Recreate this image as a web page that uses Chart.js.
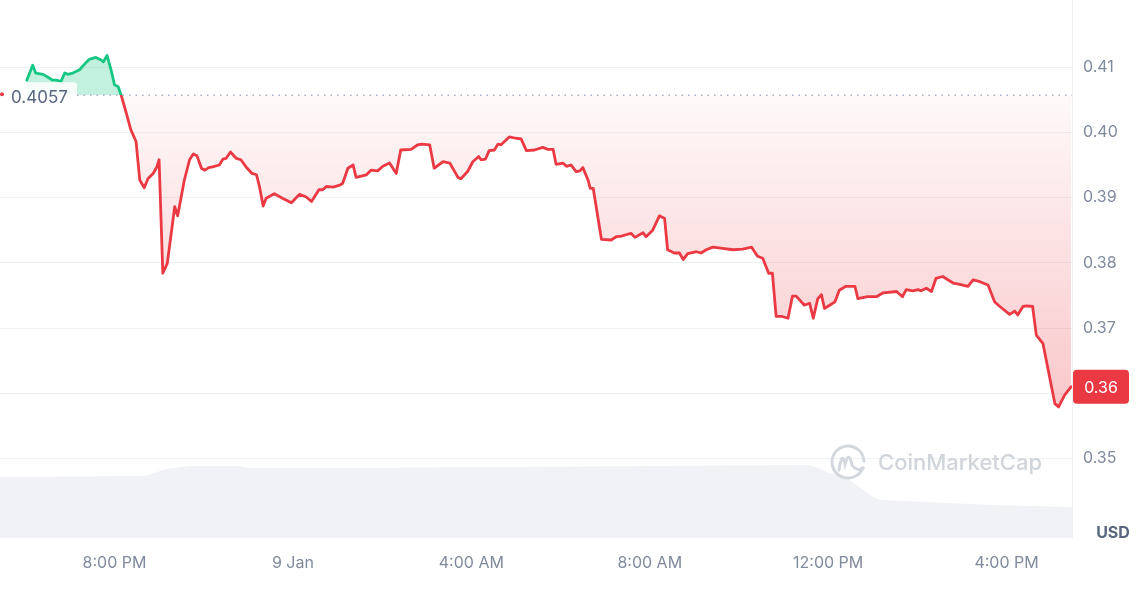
<!DOCTYPE html>
<html>
<head>
<meta charset="utf-8">
<script src="https://cdn.jsdelivr.net/npm/chart.js@4.4.1/dist/chart.umd.min.js"></script>
<style>
  html, body { margin: 0; padding: 0; background: #fff; }
  #wrap { width: 1140px; height: 599px; position: relative; }
</style>
</head>
<body>
<div id="wrap"><canvas id="chart"></canvas></div>
<script>
// time = minutes since 8 Jan 00:00
const times = [
  1082,1090,1094,1104,1110,1117,1122,1128,1133,1137,
  1144,1153,1160,1166,1175,1182,1185,1190,1196,1200,
  1205,1209,1216,1222,1229,1234,1240,1245,1252,1257,
  1260,1265,1271,1281,1285,1294,1301,1306,1311,1317,
  1321,1327,1332,1341,1346,1350,1356,1364,1370,1377,
  1385,1391,1395,1400,1404,1415,1426,1438,1449,1458,
  1465,1475,1480,1485,1494,1503,1507,1514,1521,1525,
  1539,1545,1554,1561,1570,1579,1585,1599,1608,1613,
  1624,1630,1642,1651,1662,1666,1675,1682,1690,1693,
  1699,1704,1711,1716,1720,1731,1740,1747,1754,1765,
  1776,1783,1790,1794,1803,1808,1814,1821,1826,1830,
  1837,1840,1844,1855,1868,1875,1882,1888,1895,1900,
  1911,1915,1924,1933,1940,1944,1953,1960,1965,1971,
  1983,1989,1996,2005,2018,2032,2045,2057,2065,2072,
  2080,2085,2090,2097,2106,2112,2117,2128,2135,2140,
  2146,2151,2155,2162,2169,2175,2184,2196,2200,2213,
  2225,2234,2252,2260,2265,2274,2281,2285,2292,2299,
  2305,2314,2328,2337,2348,2355,2364,2375,2384,2391,
  2404,2411,2415,2422,2427,2435,2440,2449,2453,2465,
  2470,2478,2487
];
const prices = [
  0.4080,0.4103,0.4091,0.4089,0.4085,0.4080,0.4080,0.4078,0.4091,0.4089,
  0.4091,0.4096,0.4105,0.4112,0.4115,0.4111,0.4108,0.4118,0.4093,0.4073,
  0.4070,0.4057,0.4029,0.4004,0.3986,0.3927,0.3915,0.3929,0.3937,0.3947,
  0.3958,0.3784,0.3799,0.3886,0.3872,0.3927,0.3958,0.3967,0.3964,0.3945,
  0.3942,0.3946,0.3947,0.3950,0.3959,0.3960,0.3970,0.3960,0.3958,0.3947,
  0.3937,0.3935,0.3917,0.3887,0.3899,0.3906,0.3899,0.3892,0.3905,0.3901,
  0.3894,0.3912,0.3912,0.3917,0.3916,0.3919,0.3922,0.3945,0.3950,0.3931,
  0.3935,0.3942,0.3941,0.3948,0.3953,0.3937,0.3973,0.3974,0.3981,0.3982,
  0.3981,0.3945,0.3955,0.3953,0.3931,0.3929,0.3940,0.3955,0.3963,0.3958,
  0.3959,0.3972,0.3973,0.3982,0.3981,0.3993,0.3991,0.3990,0.3972,0.3973,
  0.3977,0.3974,0.3974,0.3951,0.3953,0.3948,0.3950,0.3940,0.3941,0.3946,
  0.3927,0.3914,0.3914,0.3836,0.3835,0.3840,0.3841,0.3843,0.3845,0.3839,
  0.3846,0.3840,0.3850,0.3872,0.3868,0.3820,0.3815,0.3815,0.3805,0.3814,
  0.3817,0.3815,0.3820,0.3824,0.3822,0.3820,0.3821,0.3824,0.3810,0.3807,
  0.3784,0.3784,0.3718,0.3718,0.3715,0.3749,0.3749,0.3735,0.3738,0.3715,
  0.3745,0.3751,0.3730,0.3735,0.3740,0.3758,0.3764,0.3764,0.3745,0.3748,
  0.3748,0.3754,0.3756,0.3748,0.3759,0.3757,0.3759,0.3757,0.3761,0.3756,
  0.3776,0.3779,0.3769,0.3767,0.3764,0.3774,0.3771,0.3766,0.3740,0.3733,
  0.3721,0.3726,0.3720,0.3733,0.3734,0.3733,0.3689,0.3676,0.3653,0.3584,
  0.3579,0.3597,0.3610
];
const volumeTimes = [1046,1240,1270,1300,1368,1378,1505,1721,2131,2144,2158,2185,2202,2216,2229,2292,2381,2488];
const volumes = [6.1,6.2,6.9,7.2,7.2,7.0,7.0,7.1,7.3,7.1,6.6,6.0,5.1,4.3,3.8,3.6,3.3,3.1]; // M USD
const timeTicks = [1200, 1440, 1680, 1920, 2160, 2400];
const timeLabels = ['8:00 PM', '9 Jan', '4:00 AM', '8:00 AM', '12:00 PM', '4:00 PM'];
const priceTicks = [0.35, 0.36, 0.37, 0.38, 0.39, 0.40, 0.41];
const openPrice = 0.4057;

const GREEN = '#16c784';
const RED = '#ea3943';
const LABEL = '#808a9d';

function stopAt(chart, value) {
  const a = chart.chartArea;
  const p = (chart.scales.y.getPixelForValue(value) - a.top) / (a.bottom - a.top);
  return Math.min(1, Math.max(0, p));
}

function lineColor(context) {
  const chart = context.chart;
  if (!chart.chartArea) return RED;
  const a = chart.chartArea;
  const f = stopAt(chart, openPrice);
  const g = chart.ctx.createLinearGradient(0, a.top, 0, a.bottom);
  g.addColorStop(0, GREEN);
  g.addColorStop(f, GREEN);
  g.addColorStop(f, RED);
  g.addColorStop(1, RED);
  return g;
}

function areaColor(context) {
  const chart = context.chart;
  if (!chart.chartArea) return 'rgba(234,57,67,0.1)';
  const a = chart.chartArea;
  const f = stopAt(chart, openPrice);
  const low = stopAt(chart, Math.min(...prices));
  const g = chart.ctx.createLinearGradient(0, a.top, 0, a.bottom);
  g.addColorStop(0, 'rgba(22,199,132,0.26)');
  g.addColorStop(f, 'rgba(22,199,132,0.26)');
  g.addColorStop(f, 'rgba(234,57,67,0.03)');
  g.addColorStop(low, 'rgba(234,57,67,0.28)');
  g.addColorStop(1, 'rgba(234,57,67,0.28)');
  return g;
}

function roundRect(ctx, x, y, w, h, r) {
  ctx.beginPath();
  ctx.moveTo(x + r, y);
  ctx.lineTo(x + w - r, y);
  ctx.quadraticCurveTo(x + w, y, x + w, y + r);
  ctx.lineTo(x + w, y + h - r);
  ctx.quadraticCurveTo(x + w, y + h, x + w - r, y + h);
  ctx.lineTo(x + r, y + h);
  ctx.quadraticCurveTo(x, y + h, x, y + h - r);
  ctx.lineTo(x, y + r);
  ctx.quadraticCurveTo(x, y, x + r, y);
  ctx.closePath();
}

const overlay = {
  id: 'overlay',
  afterDatasetsDraw(chart) {
    const {ctx, chartArea: a, scales: {y}} = chart;
    const yb = y.getPixelForValue(openPrice);
    ctx.save();

    // open price marker
    ctx.fillStyle = 'rgba(255,255,255,0.85)';
    roundRect(ctx, 6, yb - 13, 71, 27, 4);
    ctx.fill();
    ctx.fillStyle = RED;
    ctx.beginPath();
    ctx.arc(2, yb - 1, 2, 0, Math.PI * 2);
    ctx.fill();
    ctx.fillStyle = '#58667e';
    ctx.font = '17px Inter';
    ctx.textAlign = 'left';
    ctx.textBaseline = 'middle';
    ctx.fillText(openPrice.toFixed(4), 11, yb + 2.5);

    ctx.strokeStyle = '#a6b0c3';
    ctx.lineWidth = 1.5;
    ctx.setLineDash([1.5, 5]);
    ctx.beginPath();
    ctx.moveTo(77, yb);
    ctx.lineTo(a.right, yb);
    ctx.stroke();
    ctx.setLineDash([]);

    // watermark
    const cx = 848, cy = 462;
    ctx.strokeStyle = '#d3d7de';
    ctx.lineWidth = 3;
    ctx.lineCap = 'round';
    ctx.beginPath();
    ctx.arc(cx, cy, 16, 0.35, Math.PI * 2 - 0.05);
    ctx.stroke();
    ctx.beginPath();
    ctx.moveTo(cx - 9, cy + 8);
    ctx.quadraticCurveTo(cx - 6, cy - 12, cx - 3, cy + 2);
    ctx.quadraticCurveTo(cx + 1, cy - 12, cx + 4, cy + 3);
    ctx.quadraticCurveTo(cx + 9, cy + 10, cx + 15, cy + 6);
    ctx.stroke();
    ctx.fillStyle = '#d0d4db';
    ctx.font = '500 22px Inter';
    ctx.textBaseline = 'middle';
    ctx.fillText('CoinMarketCap', 878, cy + 1);
    ctx.restore();
  },
  afterDraw(chart) {
    const {ctx, chartArea: a} = chart;
    const meta = chart.getDatasetMeta(0);
    const last = meta.data[meta.data.length - 1];
    ctx.save();
    ctx.fillStyle = RED;
    roundRect(ctx, a.right + 1, last.y - 17, 56, 34, 4);
    ctx.fill();
    ctx.fillStyle = '#fff';
    ctx.font = '16px Inter';
    ctx.textAlign = 'center';
    ctx.textBaseline = 'middle';
    ctx.fillText(prices[prices.length - 1].toFixed(2), a.right + 29, last.y + 1);

    ctx.fillStyle = '#58667e';
    ctx.font = 'bold 16px Inter';
    ctx.fillText('USD', 1113, 533);
    ctx.restore();
  }
};

new Chart(document.getElementById('chart'), {
  type: 'line',
  data: {
    datasets: [
      {
        label: 'Price',
        data: times.map((t, i) => ({x: t, y: prices[i]})),
        yAxisID: 'y',
        order: 0,
        borderColor: lineColor,
        backgroundColor: areaColor,
        fill: {value: openPrice},
        borderWidth: 2.8,
        borderJoinStyle: 'round',
        borderCapStyle: 'round',
        pointRadius: 0,
        tension: 0
      },
      {
        label: 'Volume',
        data: volumeTimes.map((t, i) => ({x: t, y: volumes[i]})),
        yAxisID: 'yVol',
        order: 1,
        borderWidth: 0,
        backgroundColor: '#f0f2f5',
        fill: 'origin',
        pointRadius: 0,
        tension: 0
      }
    ]
  },
  options: {
    responsive: true,
    maintainAspectRatio: false,
    animation: false,
    layout: {padding: 0, autoPadding: false},
    plugins: {
      legend: {display: false},
      tooltip: {enabled: false}
    },
    scales: {
      x: {
        type: 'linear',
        min: 1046,
        max: 2488,
        afterFit: (s) => { s.height = 61; s.paddingLeft = 0; s.paddingRight = 0; },
        afterBuildTicks: (s) => { s.ticks = timeTicks.map(v => ({value: v})); },
        ticks: {
          callback: (v) => timeLabels[timeTicks.indexOf(v)],
          color: LABEL,
          font: {family: 'Inter', size: 16},
          padding: 16,
          maxRotation: 0,
          autoSkip: false
        },
        grid: {display: false, drawTicks: false},
        border: {display: false}
      },
      y: {
        position: 'right',
        min: 0.3378,
        max: 0.4203,
        afterFit: (s) => { s.width = 68; s.paddingTop = 0; s.paddingBottom = 0; },
        afterBuildTicks: (s) => { s.ticks = priceTicks.map(v => ({value: v})); },
        ticks: {
          callback: (v) => v.toFixed(2),
          color: LABEL,
          font: {family: 'Inter', size: 16},
          padding: 11
        },
        grid: {color: '#eff2f5', drawTicks: false},
        border: {display: true, color: '#eff2f5'}
      },
      yVol: {
        display: false,
        min: 0,
        max: 53.8
      }
    }
  },
  plugins: [overlay]
});
</script>
</body>
</html>
